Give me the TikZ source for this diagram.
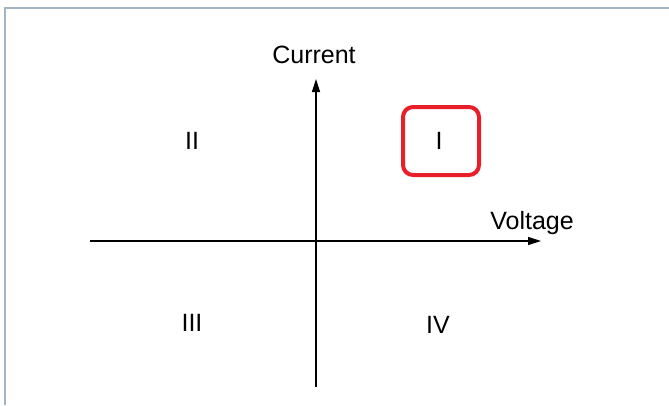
\documentclass[tikz,border=0pt]{standalone}
\usepackage{fontspec}
\setmainfont{Liberation Sans}
\usetikzlibrary{arrows.meta}
\definecolor{frameblue}{RGB}{165,180,195}
\definecolor{boxred}{RGB}{232,30,40}
\begin{document}
\begin{tikzpicture}[x=1pt,y=-1pt,
    axis/.style={line width=1.2pt,-{Triangle[length=13pt,width=8pt]}},
    quad/.style={font=\fontsize{25}{25}\selectfont}]
    \useasboundingbox (0,0) rectangle (669,405);
    \fill[white] (0,0) rectangle (669,405);
    \draw [frameblue, line width=2pt] (5,405) -- (5,8) -- (669,8);
    % axes
    \coordinate (vleft) at (90,241);
    \coordinate (vright) at (541,241);
    \coordinate (ibottom) at (316,387);
    \coordinate (itop) at (316,79);
    \draw [axis] (vleft) -- (vright);
    \draw [axis] (ibottom) -- (itop);
    \node [quad] (cur) at (314,55) {Current};
    \node [quad] (volt) at (532,223) {Voltage};
    % quadrants
    \node [quad] (q2) at (192,141) {II};
    \node [quad] (q1) at (439,141) {I};
    \node [quad] (q3) at (192,323) {III};
    \node [quad] (q4) at (438,325) {IV};
    \draw [boxred, line width=4pt, rounded corners=10pt] (403,107) rectangle (479,175);
\end{tikzpicture}
\end{document}
